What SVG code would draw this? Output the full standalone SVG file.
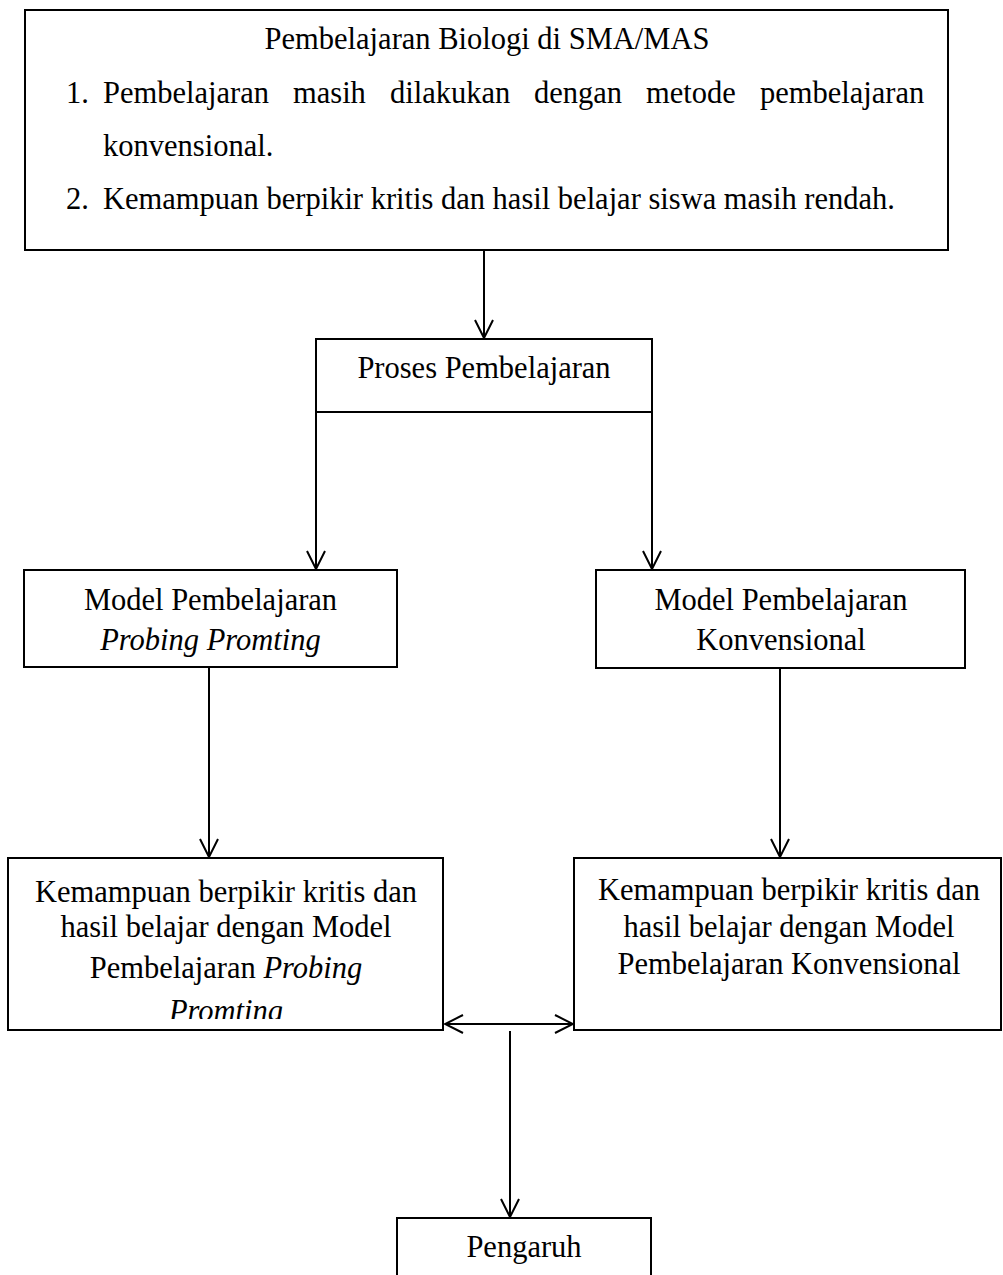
<svg xmlns="http://www.w3.org/2000/svg" width="1003" height="1275" viewBox="0 0 1003 1275">
<style>
  .box { fill: #fff; stroke: #000; stroke-width: 2; }
  .t { font-family: "Liberation Serif", "Times New Roman", serif; font-size: 30.5px; fill: #000; }
  .c { text-anchor: middle; }
  .i { font-style: italic; }
  .line { fill: none; stroke: #000; stroke-width: 2; }
</style>
<defs>
  <marker id="arr" viewBox="-20 -11 22 22" refX="0" refY="0" markerWidth="22" markerHeight="22" markerUnits="userSpaceOnUse" orient="auto-start-reverse">
    <path d="M-18,-9 L0,0 L-18,9" fill="none" stroke="#000" stroke-width="2"/>
  </marker>
  <clipPath id="clipL">
    <rect x="8" y="858" width="435" height="161"/>
  </clipPath>
</defs>
<rect width="1003" height="1275" fill="#fff"/>

<g id="connectors">
  <line class="line" x1="484" y1="250" x2="484" y2="338" marker-end="url(#arr)"/>
  <line class="line" x1="316" y1="412" x2="316" y2="569" marker-end="url(#arr)"/>
  <line class="line" x1="652" y1="412" x2="652" y2="569" marker-end="url(#arr)"/>
  <line class="line" x1="209" y1="667" x2="209" y2="857" marker-end="url(#arr)"/>
  <line class="line" x1="780" y1="668" x2="780" y2="857" marker-end="url(#arr)"/>
  <line class="line" x1="445" y1="1024" x2="573" y2="1024" marker-start="url(#arr)" marker-end="url(#arr)"/>
  <line class="line" x1="510" y1="1031" x2="510" y2="1217" marker-end="url(#arr)"/>
</g>

<g id="node-top">
  <rect class="box" x="25" y="10" width="923" height="240"/>
  <text class="t c" x="487" y="49">Pembelajaran Biologi di SMA/MAS</text>
  <text class="t" y="103"><tspan x="66">1.</tspan><tspan x="103">Pembelajaran</tspan><tspan x="293">masih</tspan><tspan x="390">dilakukan</tspan><tspan x="534">dengan</tspan><tspan x="646">metode</tspan><tspan x="760">pembelajaran</tspan></text>
  <text class="t" x="103" y="156">konvensional.</text>
  <text class="t" y="209"><tspan x="66">2.</tspan><tspan x="103">Kemampuan berpikir kritis dan hasil belajar siswa masih rendah.</tspan></text>
</g>

<g id="node-proses">
  <rect class="box" x="316" y="339" width="336" height="73"/>
  <text class="t c" x="484" y="378">Proses Pembelajaran</text>
</g>

<g id="node-model-pp">
  <rect class="box" x="24" y="570" width="373" height="97"/>
  <text class="t c" x="210.5" y="610">Model Pembelajaran</text>
  <text class="t c i" x="210.5" y="650">Probing Promting</text>
</g>

<g id="node-model-konv">
  <rect class="box" x="596" y="570" width="369" height="98"/>
  <text class="t c" x="781" y="610">Model Pembelajaran</text>
  <text class="t c" x="781" y="650">Konvensional</text>
</g>

<g id="node-hasil-pp">
  <rect class="box" x="8" y="858" width="435" height="172"/>
  <g clip-path="url(#clipL)">
    <text class="t c" x="226" y="902">Kemampuan berpikir kritis dan</text>
    <text class="t c" x="226" y="937">hasil belajar dengan Model</text>
    <text class="t c" x="226" y="978">Pembelajaran <tspan class="i">Probing</tspan></text>
    <text class="t c i" x="226" y="1021">Promting</text>
  </g>
</g>

<g id="node-hasil-konv">
  <rect class="box" x="574" y="858" width="427" height="172"/>
  <text class="t c" x="789" y="900">Kemampuan berpikir kritis dan</text>
  <text class="t c" x="789" y="937">hasil belajar dengan Model</text>
  <text class="t c" x="789" y="974">Pembelajaran Konvensional</text>
</g>

<g id="node-pengaruh">
  <rect class="box" x="397" y="1218" width="254" height="70"/>
  <text class="t c" x="524" y="1257">Pengaruh</text>
</g>
</svg>
